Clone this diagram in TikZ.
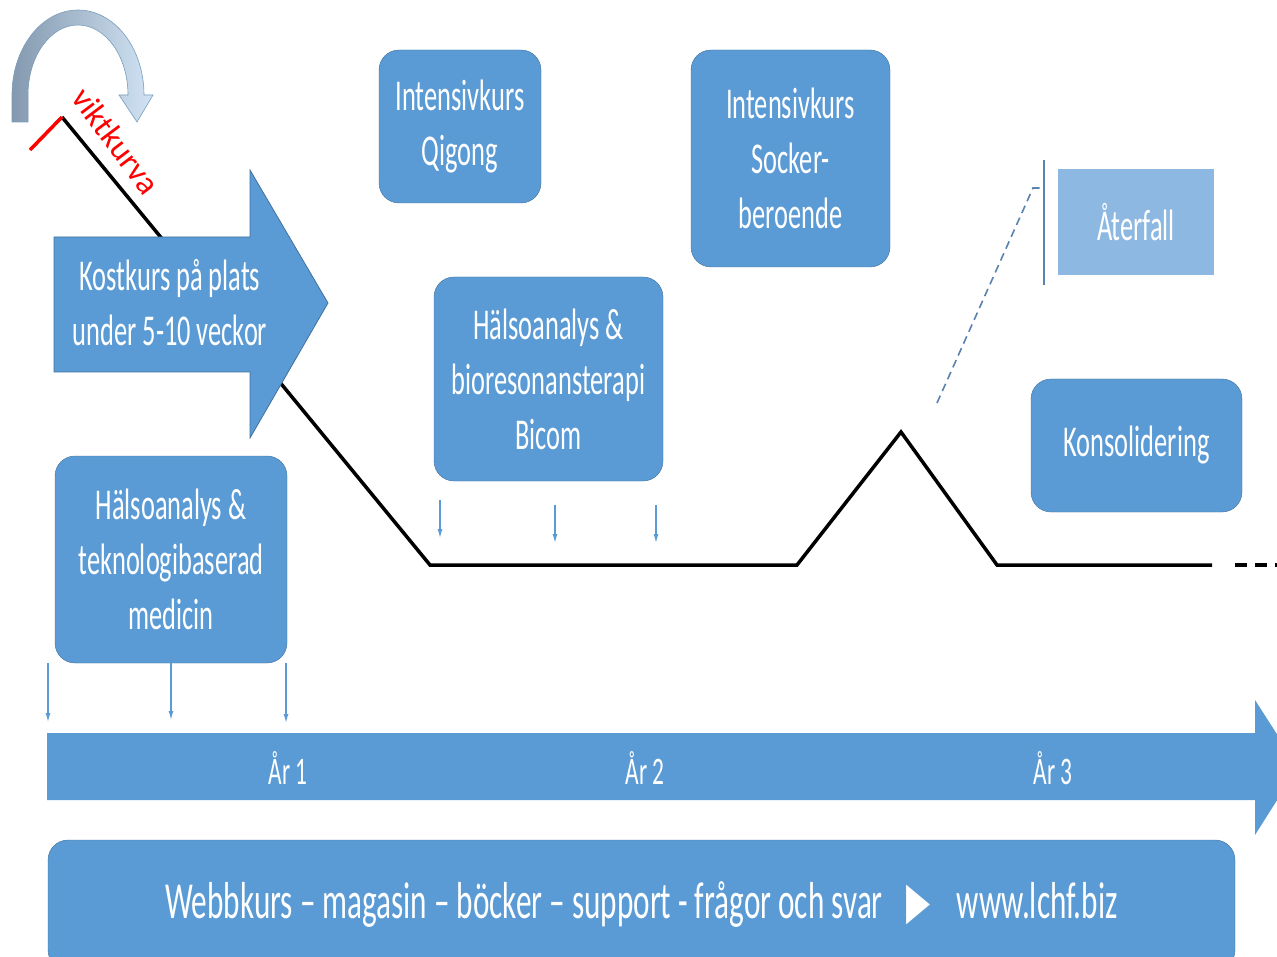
\documentclass[tikz,border=0pt]{standalone}
\usepackage{fontspec}
\setmainfont{Carlito}[FakeStretch=0.6]
\newfontfamily\plainfont{Carlito}
\newfontfamily\symfont{DejaVu Sans}[FakeStretch=0.6]
\usetikzlibrary{arrows.meta, positioning}
\definecolor{boxblue}{HTML}{5B9BD5}
\definecolor{boxedge}{HTML}{41719C}
\definecolor{palefill}{HTML}{8DB8E1}
\definecolor{curvegray}{HTML}{8499AF}
\definecolor{curvelight}{HTML}{D2E4F4}
\definecolor{linkblue}{HTML}{5A82AE}

\begin{document}
\begin{tikzpicture}[x=1pt, y=-1pt,
  box/.style={draw=boxedge, fill=boxblue, rounded corners=20pt, text=white, align=center,
    font=\fontsize{44}{55}\selectfont, inner sep=0pt},
  flatbox/.style={fill=palefill, text=white, align=center, font=\fontsize{44}{55}\selectfont, inner sep=0pt},
  tick/.style={-{Latex[length=9pt,width=5pt]}, boxblue, line width=1.2pt},
  weight/.style={line width=3.5pt, black},
  yearlbl/.style={text=white, font=\fontsize{39}{45}\selectfont},
]
  \useasboundingbox (0,0) rectangle (1277,957);
  \clip (0,0) rectangle (1277,957);

  % Time axis
  \fill[boxblue] (47,733) -- (1255,733) -- (1255,700) -- (1298,767) -- (1255,835) -- (1255,800) -- (47,800) -- cycle;
  \node[yearlbl] (ar1) at (288,768) {År 1};
  \node[yearlbl] (ar2) at (645,768) {År 2};
  \node[yearlbl] (ar3) at (1053,768) {År 3};

  % Web bar
  \node[box, minimum width=1187pt, minimum height=130pt, font=\fontsize{52}{60}\selectfont] (webb) at (641.5,905)
    {Webbkurs – magasin – böcker – support - frågor och svar\hspace{24pt}{\symfont ▶}\hspace{26pt}www.lchf.biz};

  % Weight curve
  \coordinate (w0) at (62,117);
  \coordinate (w1) at (430,565);
  \coordinate (w2) at (797,565);
  \coordinate (w3) at (901,432);
  \coordinate (w4) at (997,565);
  \coordinate (w5) at (1212,565);
  \coordinate (w6) at (1235,565);
  \coordinate (w7) at (1280,565);
  \coordinate (r0) at (30,150);
  \draw[weight] (w0) -- (w1) -- (w2) -- (w3) -- (w4) -- (w5);
  \draw[weight, dash pattern=on 12pt off 8pt] (w6) -- (w7);
  \draw[line width=3.5pt, red] (r0) -- (w0);
  \node[text=red, font=\plainfont\fontsize{33}{36}\selectfont, rotate=-53] (vikt) at (116,141) {viktkurva};

  % Curved arrow
  \draw[draw=boxedge!70, left color=curvegray, right color=curvelight, line width=0.6pt]
    (12,122) -- (12,95) arc[start angle=180, end angle=360, x radius=66, y radius=85]
    -- (153,95) -- (137,122) -- (119,95) -- (128,95)
    arc[start angle=360, end angle=180, x radius=50, y radius=70] -- (28,122) -- cycle;

  % Course arrow
  \draw[draw=boxedge, fill=boxblue, line width=0.8pt]
    (54,237) -- (250,237) -- (250,170) -- (328,303) -- (250,438) -- (250,372) -- (54,372) -- cycle;
  \node[text=white, align=center, font=\fontsize{44}{55}\selectfont] (kost) at (170,303) {Kostkurs på plats\\under 5-10 veckor};

  % Boxes
  \node[box, minimum width=162pt, minimum height=153pt] (qigong) at (460,126.5) {Intensivkurs\\Qigong};
  \node[box, minimum width=199pt, minimum height=217pt] (socker) at (790.5,158.5) {Intensivkurs\\Socker-\\beroende};
  \node[box, minimum width=229pt, minimum height=204pt] (bicom) at (548.5,379) {Hälsoanalys \&\\bioresonansterapi\\Bicom};
  \node[box, minimum width=232pt, minimum height=207pt] (tekno) at (171,559.5) {Hälsoanalys \&\\teknologibaserad\\medicin};
  \node[box, minimum width=211pt, minimum height=133pt] (konsol) at (1136.5,445.5) {Konsolidering};
  \node[flatbox, minimum width=156pt, minimum height=106pt] (aterfall) at (1136,222) {Återfall};

  % Relapse branch
  \coordinate (d0) at (937,403);
  \coordinate (d1) at (1033,188);
  \coordinate (d2) at (1044,188);
  \coordinate (v0) at (1044,160);
  \coordinate (v1) at (1044,285);
  \draw[linkblue, line width=1.5pt] (v0) -- (v1);
  \draw[linkblue, line width=1.6pt, dash pattern=on 8pt off 5pt] (d0) -- (d1) -- (d2);

  % Small arrows
  \foreach \i/\x/\ya/\yb in {1/440/500/538, 2/555/505/543, 3/656/505/543} {
    \coordinate (bt\i) at (\x,\ya);
    \coordinate (bb\i) at (\x,\yb);
    \draw[tick] (bt\i) -- (bb\i);
  }
  \foreach \i/\x/\yb in {1/48/722, 2/171/720, 3/286/723} {
    \coordinate (tt\i) at (\x,663);
    \coordinate (tb\i) at (\x,\yb);
    \draw[tick] (tt\i) -- (tb\i);
  }
\end{tikzpicture}
\end{document}
